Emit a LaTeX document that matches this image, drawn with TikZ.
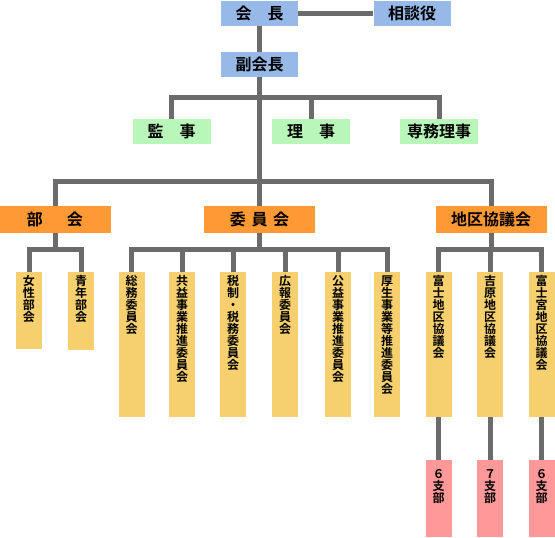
\documentclass[tikz,border=0pt]{standalone}
\usepackage{fontspec}
\newfontfamily\jpfont{Noto Sans CJK JP}[BoldFont={Noto Sans CJK JP Bold}]
\usetikzlibrary{positioning,calc}
\definecolor{linegray}{HTML}{6B6B6B}
\definecolor{officerblue}{HTML}{96B9E8}
\definecolor{boardgreen}{HTML}{B9F6B9}
\definecolor{divorange}{HTML}{FF9933}
\definecolor{memberyellow}{HTML}{F6D06F}
\definecolor{chapterpink}{HTML}{FF9999}
\tikzset{
  link/.style={line width=5pt, draw=linegray},
  officer/.style={fill=officerblue, inner sep=0pt, minimum width=77pt, minimum height=25pt,
    font=\jpfont\bfseries\fontsize{16}{16}\selectfont},
  board/.style={fill=boardgreen, inner sep=0pt, minimum width=78pt, minimum height=25pt,
    font=\jpfont\bfseries\fontsize{16}{16}\selectfont},
  division/.style={fill=divorange, inner sep=0pt, minimum width=111pt, minimum height=27pt,
    font=\jpfont\bfseries\fontsize{16}{16}\selectfont},
  member/.style={fill=memberyellow, anchor=north, inner sep=0pt, text width=26pt, align=center,
    text height=13pt, text depth=#1, font=\jpfont\bfseries\fontsize{12}{12}\selectfont},
  member/.default=132pt,
  chapter/.style={fill=chapterpink, anchor=north, inner sep=0pt, text width=26pt, align=center,
    text height=18pt, text depth=59pt, font=\jpfont\bfseries\fontsize{12}{12}\selectfont}
}

\begin{document}
\begin{tikzpicture}[x=1pt,y=-1pt]
  \useasboundingbox (0,0) rectangle (555,538);
  \node[officer] (kaicho) at (259.5,13) {会　長};
  \node[officer] (sodan) at (412,13) {相談役};
  \node[officer] (fuku) at (259.5,64.5) {副会長};
  \node[board] (kansa) at (171.5,131.5) {監　事};
  \node[board] (riji) at (311,131.5) {理　事};
  \node[board] (senmu) at (439,131.5) {専務理事};
  \node[division] (bukai) at (55,219.5) {部\hspace{1.5em}会};
  \node[division] (iinkai) at (259.5,219.5) {委\hspace{0.35em}員\hspace{0.35em}会};
  \node[division] (chiku) at (491,219.5) {地区協議会};
  \node[member=64pt] (josei) at (29,272) {女\\性\\部\\会};
  \node[member=65pt] (seinen) at (81,272) {青\\年\\部\\会};
  \node[member] (somu) at (131.5,272) {総\\務\\委\\員\\会};
  \node[member] (kyoeki) at (182,272) {共\\益\\事\\業\\推\\進\\委\\員\\会};
  \node[member] (zeisei) at (233,272) {税\\制\\・\\税\\務\\委\\員\\会};
  \node[member] (koho) at (285,272) {広\\報\\委\\員\\会};
  \node[member] (koeki) at (338,272) {公\\益\\事\\業\\推\\進\\委\\員\\会};
  \node[member] (kosei) at (387,272) {厚\\生\\事\\業\\等\\推\\進\\委\\員\\会};
  \node[member] (fuji) at (438.5,272) {富\\士\\地\\区\\協\\議\\会};
  \node[member] (yoshiwara) at (490,272) {吉\\原\\地\\区\\協\\議\\会};
  \node[member] (fujinomiya) at (541.5,272) {富\\士\\宮\\地\\区\\協\\議\\会};
  \node[chapter] (fujis) at (438.5,460) {６\\支\\部};
  \node[chapter] (yoshiwaras) at (490,460) {７\\支\\部};
  \node[chapter] (fujinomiyas) at (541.5,460) {６\\支\\部};
  \coordinate (bus1) at (259.5,97);
  \coordinate (bus2) at (259.5,181);
  \coordinate (bkbus) at (55,249);
  \coordinate (ibus) at (259.5,249);
  \coordinate (cbus) at (491,249);
  \draw[link] (kaicho) -- (sodan);
  \draw[link] (kaicho) -- (fuku);
  \draw[link] (fuku) -- (iinkai);
  \draw[link] (kansa) |- (bus1) -| (senmu);
  \draw[link] (riji) -- (riji |- bus1);
  \draw[link] (bukai) |- (bus2) -| (chiku);
  \draw[link] (josei) |- (bkbus) -| (seinen);
  \draw[link] (bukai) -- (bukai |- bkbus);
  \draw[link] (somu) |- (ibus) -| (kosei);
  \draw[link] (iinkai) -- (iinkai |- ibus);
  \draw[link] (kyoeki) -- (kyoeki |- ibus);
  \draw[link] (zeisei) -- (zeisei |- ibus);
  \draw[link] (koho) -- (koho |- ibus);
  \draw[link] (koeki) -- (koeki |- ibus);
  \draw[link] (fuji) |- (cbus) -| (fujinomiya);
  \draw[link] (chiku) -- (chiku |- cbus);
  \draw[link] (yoshiwara) -- (yoshiwara |- cbus);
  \draw[link] (fuji) -- (fujis);
  \draw[link] (yoshiwara) -- (yoshiwaras);
  \draw[link] (fujinomiya) -- (fujinomiyas);
\end{tikzpicture}
\end{document}
